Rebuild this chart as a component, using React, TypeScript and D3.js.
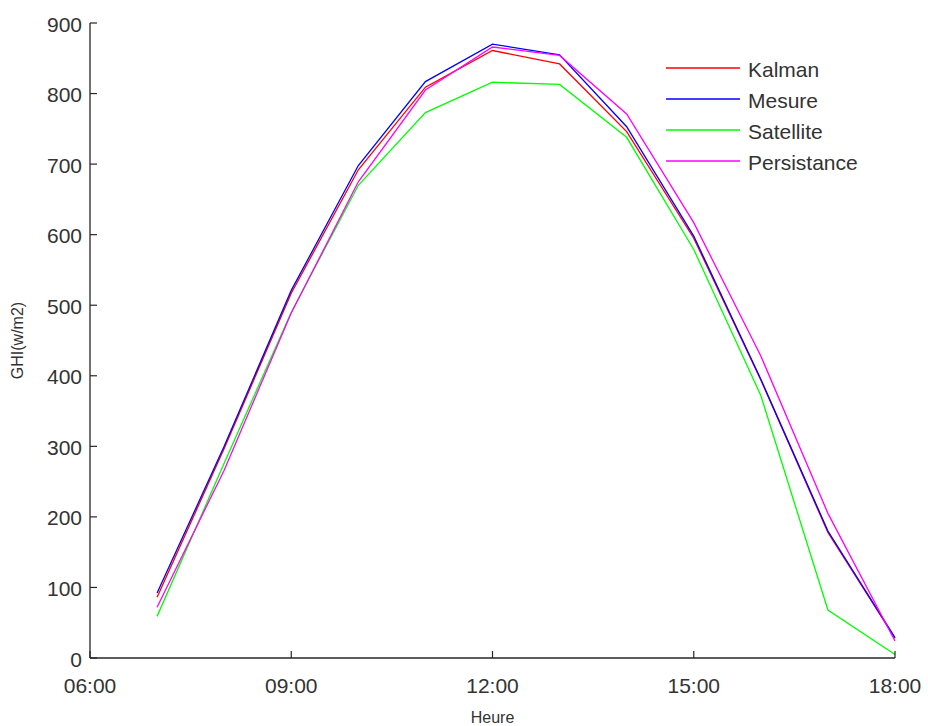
import React from "react";
import * as d3 from "d3";

// Hours of the day (decimal) for each sample
const hours = [7, 8, 9, 10, 11, 12, 13, 14, 15, 16, 17, 18];

// GHI series (W/m²)
const kalman = [86, 297, 517, 692, 809, 861, 842, 746, 595, 394, 178, 28];
const mesure = [92, 300, 521, 698, 817, 870, 855, 753, 598, 395, 180, 29];
const satellite = [59, 276, 490, 670, 773, 816, 813, 738, 579, 372, 68, 5];
const persistance = [72, 266, 489, 675, 805, 866, 854, 771, 617, 428, 205, 24];

const seriesNames = ["Kalman", "Mesure", "Satellite", "Persistance"];
const seriesColors = ["#ff0000", "#0000ff", "#00ff00", "#ff00ff"];
const seriesValues = [kalman, mesure, satellite, persistance];

const yTicks = [0, 100, 200, 300, 400, 500, 600, 700, 800, 900];
const xTicks = [6, 9, 12, 15, 18];

const W = 928;
const H = 726;
const margin = { left: 90, right: 33, top: 23, bottom: 68 };

const fmtHour = (h: number) => `${String(h).padStart(2, "0")}:00`;

export default function App() {
  const x = d3.scaleLinear().domain([6, 18]).range([margin.left, W - margin.right]);
  const y = d3.scaleLinear().domain([0, 900]).range([H - margin.bottom, margin.top]);
  const line = d3
    .line<number>()
    .x((_, i) => x(hours[i]))
    .y((v) => y(v));

  const axisColor = "#262626";
  const textColor = "#333333";
  const font = "'Liberation Sans', Arial, Helvetica, sans-serif";
  const x0 = x(6);
  const y0 = y(0);

  return (
    <svg
      width={W}
      height={H}
      style={{ position: "absolute", left: 0, top: 0, background: "#fff" }}
      fontFamily={font}
    >
      {/* data lines */}
      {seriesValues.map((vals, i) => (
        <path
          key={seriesNames[i]}
          d={line(vals) || ""}
          fill="none"
          stroke={seriesColors[i]}
          strokeWidth={1.3}
        />
      ))}

      {/* y axis */}
      <line x1={x0} x2={x0} y1={y(900)} y2={y0} stroke={axisColor} strokeWidth={1.3} />
      {yTicks.map((t) => (
        <g key={`y${t}`}>
          <line x1={x0} x2={x0 + 7} y1={y(t)} y2={y(t)} stroke={axisColor} strokeWidth={1.2} />
          <text
            x={x0 - 8}
            y={y(t) + 1}
            textAnchor="end"
            dominantBaseline="central"
            fontSize={21}
            fill={textColor}
          >
            {t}
          </text>
        </g>
      ))}

      {/* x axis */}
      <line x1={x0} x2={x(18)} y1={y0} y2={y0} stroke={axisColor} strokeWidth={1.3} />
      {xTicks.map((t) => (
        <g key={`x${t}`}>
          <line x1={x(t)} x2={x(t)} y1={y0} y2={y0 - 7} stroke={axisColor} strokeWidth={1.2} />
          <text x={x(t)} y={y0 + 35} textAnchor="middle" fontSize={21} fill={textColor}>
            {fmtHour(t)}
          </text>
        </g>
      ))}

      {/* axis titles */}
      <text x={x(12)} y={H - 3} textAnchor="middle" fontSize={16} fill={textColor}>
        Heure
      </text>
      <text
        transform={`translate(23, ${(y(900) + y0) / 2}) rotate(-90)`}
        textAnchor="middle"
        fontSize={16}
        fill={textColor}
      >
        GHI(w/m2)
      </text>

      {/* legend */}
      {seriesNames.map((name, i) => (
        <g key={`lg${name}`} transform={`translate(666, ${68 + i * 31})`}>
          <line x1={0} x2={74} y1={0} y2={0} stroke={seriesColors[i]} strokeWidth={1.3} />
          <text x={82} y={1} dominantBaseline="central" fontSize={21} fill={textColor}>
            {name}
          </text>
        </g>
      ))}
    </svg>
  );
}
